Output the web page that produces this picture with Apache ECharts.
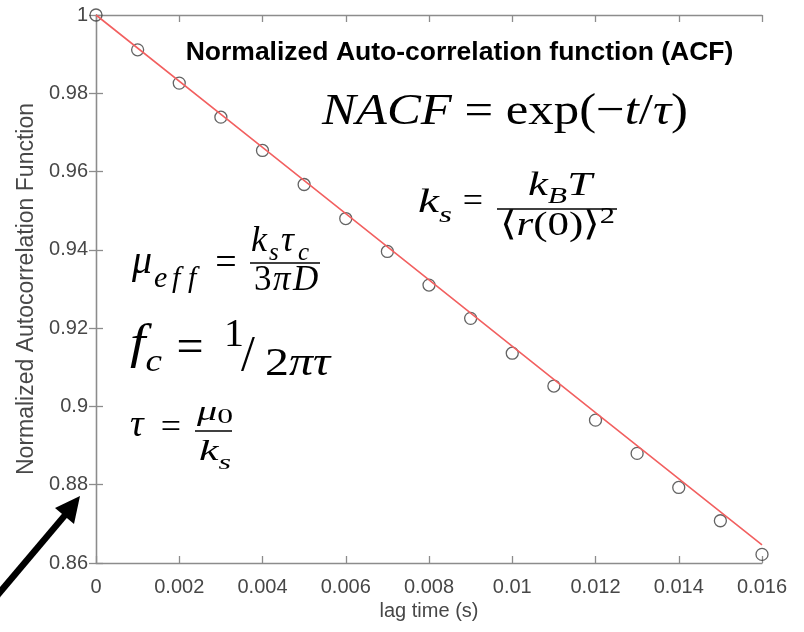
<!DOCTYPE html>
<html>
<head>
<meta charset="utf-8">
<title>Normalized Auto-correlation function (ACF)</title>
<script src="https://cdn.jsdelivr.net/npm/echarts@6/dist/echarts.min.js"></script>
<style>
  html, body { margin: 0; padding: 0; background: #ffffff; }
  #chart { width: 804px; height: 632px; }
</style>
</head>
<body>
<div id="chart"></div>
<script>
// Lag times (s) and measured normalized ACF values
const lagTimes = [0, 0.001, 0.002, 0.003, 0.004, 0.005, 0.006, 0.007, 0.008,
                  0.009, 0.010, 0.011, 0.012, 0.013, 0.014, 0.015, 0.016];
const acfValues = [1.0, 0.9911, 0.9826, 0.9739, 0.9654, 0.9567, 0.9480, 0.9396, 0.9310,
                   0.9225, 0.9136, 0.9052, 0.8965, 0.8880, 0.8793, 0.8708, 0.8622];

// Exponential fit exp(-t/tau) sampled along the lag axis
const fitTimes = [0, 0.004, 0.008, 0.012, 0.016];
const fitValues = [1.0, 0.9662, 0.9323, 0.8984, 0.8646];

// Tick labels
const xTickLabels = ['0', '0.002', '0.004', '0.006', '0.008', '0.01', '0.012', '0.014', '0.016'];
const yTickLabels = ['0.86', '0.88', '0.9', '0.92', '0.94', '0.96', '0.98', '1'];

const X_MIN = 0, X_MAX = 0.016, X_STEP = 0.002;
const Y_MIN = 0.86, Y_MAX = 1.0, Y_STEP = 0.02;

const AXIS_COLOR = '#8c8c8c';
const LABEL_COLOR = '#474747';
const SANS = '"Liberation Sans", Arial, sans-serif';
const SERIF = '"Liberation Serif", serif';

function tickFmt(labels, min, step) {
  return function (v) {
    const i = Math.round((v - min) / step);
    return labels[i] !== undefined ? labels[i] : '';
  };
}

// ---- equation typesetting helpers -------------------------------------
const mctx = document.createElement('canvas').getContext('2d');
function measure(s, size, it) {
  mctx.font = (it ? 'italic ' : '') + size + 'px ' + SERIF;
  return mctx.measureText(s).width;
}
// one glyph run; x = left edge, b = baseline, sx = horizontal scale
function piece(s, x, b, size, it, sx) {
  return {
    type: 'text', z: 100,
    x: x, y: b - 0.35 * size,
    scaleX: sx || 1, originX: 0, originY: 0,
    style: {
      text: s, fontFamily: SERIF, fontSize: size,
      fontStyle: it ? 'italic' : 'normal',
      fill: '#000000', align: 'left', verticalAlign: 'middle'
    }
  };
}
// lay items out left to right between left and right (right optional)
function run(items, left, right, b) {
  const ws = items.map(function (p) { return measure(p[0], p[1], p[2]); });
  const total = ws.reduce(function (a, c) { return a + c; }, 0);
  const sx = right == null ? 1 : (right - left) / total;
  const out = [];
  let cur = left;
  items.forEach(function (p, i) {
    out.push(piece(p[0], cur, b + (p[3] || 0), p[1], p[2], sx));
    cur += ws[i] * sx;
  });
  return out;
}
function centered(s, cx, b, size) {
  const w = measure(s, size, false);
  return piece(s, cx - w / 2, b, size, false, 1);
}
function bar(x1, x2, y) {
  return {
    type: 'line', z: 100,
    shape: { x1: x1, y1: y, x2: x2, y2: y },
    style: { stroke: '#000000', lineWidth: 1.6 }
  };
}
const IT = true, UP = false;

const equations = [].concat(
  // NACF = exp(-t/tau)
  run([['NACF', 45, IT], [' = ', 45, UP], ['exp(', 45, UP], ['\u2212', 45, UP],
       ['t', 45, IT], ['/', 45, UP], ['\u03C4', 45, IT], [')', 45, UP]], 322, 688, 128),

  // k_s = k_B T / <r(0)>^2
  run([['k', 34, IT], ['s', 24, IT, 9]], 418, 452, 215),
  [centered('=', 473, 215, 36)],
  [bar(497, 617, 209)],
  run([['k', 34, IT], ['B', 24, IT, 7], ['T', 34, IT]], 528, 592, 198),
  run([['\u27E8', 34, UP], ['r', 34, IT], ['(0)', 34, UP], ['\u27E9', 34, UP], ['2', 24, UP, -13]],
      500, 615, 238),

  // mu_eff = k_s tau_c / 3 pi D
  [piece('\u03BC', 132, 276, 40, IT),
   piece('e', 154, 290, 30, IT),
   piece('f', 172, 290, 30, IT),
   piece('f', 188, 290, 30, IT)],
  [centered('=', 226, 277, 38)],
  [bar(250, 320, 263)],
  [piece('k', 251, 254, 36, IT),
   piece('s', 269, 262, 25, IT),
   piece('\u03C4', 281, 254, 36, IT),
   piece('c', 298, 262, 25, IT)],
  [piece('3', 254, 293, 35, UP),
   piece('\u03C0', 273, 293, 35, IT),
   piece('D', 293, 293, 35, IT)],

  // f_c = 1 / 2 pi tau
  run([['f', 48, IT], ['c', 32, IT, 12]], 130, 162, 362),
  [centered('=', 190, 366, 48)],
  [piece('1', 224, 349, 40, UP, 1)],
  [piece('/', 241, 374, 50, UP, 1)],
  run([['2', 40, UP], ['\u03C0', 40, IT], ['\u03C4', 40, IT]], 265, 330, 378),

  // tau = mu_0 / k_s
  [piece('\u03C4', 130, 439, 38, IT, 1)],
  [centered('=', 171, 441, 36)],
  [bar(195, 232, 431)],
  run([['\u03BC', 28, IT], ['0', 22, UP, 3]], 197, 233, 422),
  run([['k', 30, IT], ['s', 22, IT, 8]], 199, 231, 463)
);

const arrow = [
  {
    type: 'line', z: 90,
    shape: { x1: -10, y1: 604, x2: 66, y2: 514 },
    style: { stroke: '#000000', lineWidth: 6.5 }
  },
  {
    type: 'polygon', z: 90,
    shape: { points: [[80, 496], [55, 508], [74, 524]] },
    style: { fill: '#000000' }
  }
];

const titleText = {
  type: 'text', z: 100,
  x: 459.5, y: 53,
  style: {
    text: 'Normalized Auto-correlation function (ACF)',
    fontFamily: SANS, fontSize: 26.5, fontWeight: 'bold',
    fill: '#000000', align: 'center', verticalAlign: 'middle'
  }
};

const axisLine = { show: true, lineStyle: { color: AXIS_COLOR, width: 1.3 } };
const axisTick = { show: true, inside: true, length: 7, lineStyle: { color: AXIS_COLOR, width: 1.3 } };

const chart = echarts.init(document.getElementById('chart'), null, { renderer: 'canvas', width: 804, height: 632 });

chart.setOption({
  animation: false,
  backgroundColor: '#ffffff',
  grid: { left: 96, right: 42, top: 15, bottom: 69, containLabel: false },
  xAxis: [
    {
      type: 'value', position: 'bottom',
      min: X_MIN, max: X_MAX, interval: X_STEP,
      axisLine: axisLine, axisTick: axisTick, splitLine: { show: false },
      axisLabel: { color: LABEL_COLOR, fontSize: 20, fontFamily: SANS, margin: 14,
                   formatter: tickFmt(xTickLabels, X_MIN, X_STEP) },
      name: 'lag time (s)', nameLocation: 'middle', nameGap: 38,
      nameTextStyle: { color: LABEL_COLOR, fontSize: 20, fontFamily: SANS }
    },
    {
      type: 'value', position: 'top',
      min: X_MIN, max: X_MAX, interval: X_STEP,
      axisLine: axisLine, axisTick: axisTick, splitLine: { show: false },
      axisLabel: { show: false }
    }
  ],
  yAxis: [
    {
      type: 'value', position: 'left',
      min: Y_MIN, max: Y_MAX, interval: Y_STEP,
      axisLine: axisLine, axisTick: axisTick, splitLine: { show: false },
      axisLabel: { color: LABEL_COLOR, fontSize: 20, fontFamily: SANS, margin: 8,
                   formatter: tickFmt(yTickLabels, Y_MIN, Y_STEP) },
      name: 'Normalized Autocorrelation Function', nameLocation: 'middle', nameGap: 58,
      nameTextStyle: { color: LABEL_COLOR, fontSize: 23, fontFamily: SANS }
    },
    {
      type: 'value', position: 'right',
      min: Y_MIN, max: Y_MAX, interval: Y_STEP,
      axisLine: axisLine, axisTick: axisTick, splitLine: { show: false },
      axisLabel: { show: false }
    }
  ],
  series: [
    {
      name: 'ACF', type: 'scatter',
      xAxisIndex: 0, yAxisIndex: 0,
      data: lagTimes.map(function (t, i) { return [t, acfValues[i]]; }),
      symbol: 'circle', symbolSize: 12, clip: false, z: 3,
      itemStyle: { color: 'rgba(0,0,0,0)', borderColor: '#3c3c3c', borderWidth: 1.3 }
    },
    {
      name: 'fit', type: 'line',
      xAxisIndex: 0, yAxisIndex: 0,
      data: fitTimes.map(function (t, i) { return [t, fitValues[i]]; }),
      showSymbol: false, symbol: 'none', z: 4,
      lineStyle: { color: '#f26060', width: 1.6 }
    }
  ],
  graphic: [titleText].concat(equations, arrow)
});
</script>
</body>
</html>
